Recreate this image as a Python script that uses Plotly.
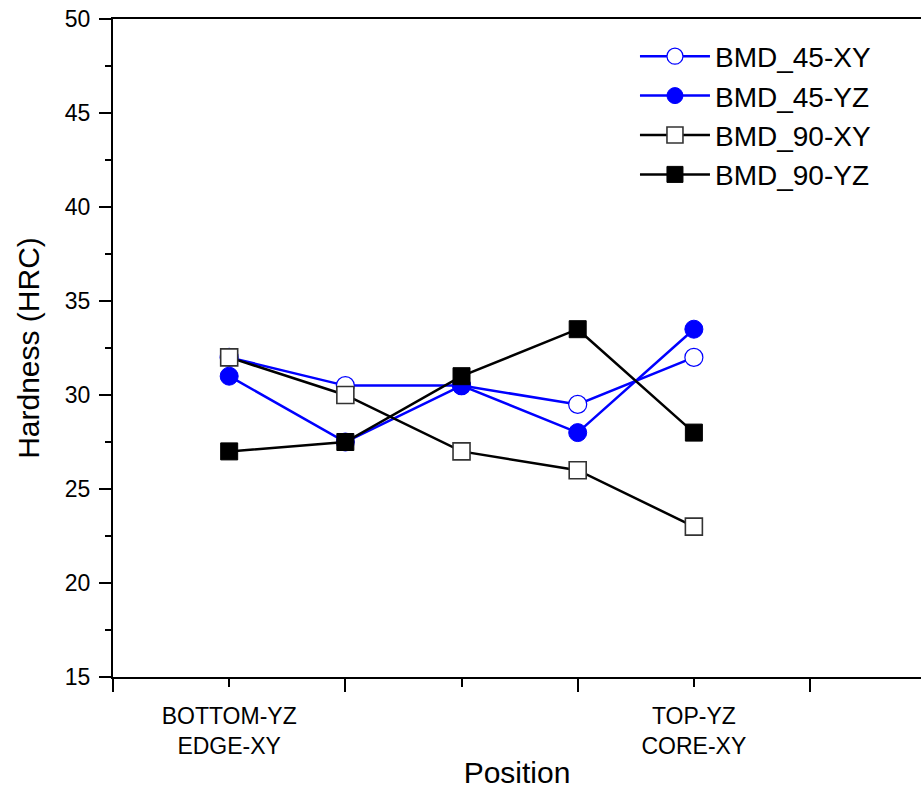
import plotly.graph_objects as go

# Hardness measured at five positions for two build orientations
positions = [1, 2, 3, 4, 5]
bmd45_xy = [32.0, 30.5, 30.5, 29.5, 32.0]
bmd45_yz = [31.0, 27.5, 30.5, 28.0, 33.5]
bmd90_xy = [32.0, 30.0, 27.0, 26.0, 23.0]
bmd90_yz = [27.0, 27.5, 31.0, 33.5, 28.0]

label_positions = [1, 5]
label_text = ["BOTTOM-YZ<br>EDGE-XY", "TOP-YZ<br>CORE-XY"]

BLUE = "#0000ff"
BLACK = "#000000"

# name, values, line colour, symbol, fill, outline colour, outline width, size
series = [
    ("BMD_45-XY", bmd45_xy, BLUE, "circle", "white", BLUE, 1.2, 18),
    ("BMD_45-YZ", bmd45_yz, BLUE, "circle", BLUE, BLUE, 1, 18),
    ("BMD_90-XY", bmd90_xy, BLACK, "square", "white", "#333333", 1.6, 17),
    ("BMD_90-YZ", bmd90_yz, BLACK, "square", BLACK, BLACK, 1, 17),
]

fig = go.Figure()
for name, vals, color, symbol, fill, outline, ow, size in series:
    fig.add_trace(go.Scatter(
        x=positions, y=vals, name=name, mode="lines+markers",
        line=dict(color=color, width=2.5),
        marker=dict(symbol=symbol, size=size, color=fill, line=dict(color=outline, width=ow)),
    ))

xrange = [0, 6.955]
fig.update_layout(
    width=921, height=789,
    margin=dict(l=113, r=0, t=19, b=112),
    paper_bgcolor="white", plot_bgcolor="white",
    font=dict(family="Liberation Sans, Arial, sans-serif", color="black"),
    showlegend=True,
    legend=dict(x=0.646, y=0.981, xanchor="left", yanchor="top",
                font=dict(size=28), itemwidth=70, tracegroupgap=0,
                bgcolor="rgba(0,0,0,0)"),
    xaxis=dict(
        range=xrange, tickmode="array", tickvals=[0, 2, 4, 6], ticktext=["", "", "", ""],
        ticks="outside", ticklen=13, tickwidth=2, tickcolor="black",
        minor=dict(tickvals=[1, 3, 5], ticks="outside", ticklen=8, tickwidth=2, tickcolor="black"),
        showline=True, linewidth=2, linecolor="black", mirror=True,
        showgrid=False, zeroline=False,
        title=dict(text="Position", font=dict(size=30), standoff=79),
    ),
    xaxis2=dict(
        range=xrange, overlaying="x", side="bottom", anchor="y",
        tickmode="array", tickvals=label_positions, ticktext=label_text,
        ticks="", showline=False, showgrid=False, zeroline=False,
        tickfont=dict(size=23),
        ticklabelstandoff=23,
    ),
    yaxis=dict(
        range=[15, 50], tickmode="linear", tick0=15, dtick=5,
        ticks="outside", ticklen=12, tickwidth=2, tickcolor="black",
        minor=dict(dtick=2.5, ticks="outside", ticklen=6, tickwidth=2, tickcolor="black"),
        showline=True, linewidth=2, linecolor="black", mirror=False,
        showgrid=False, zeroline=False, tickfont=dict(size=23), ticklabelstandoff=4,
        title=dict(text="Hardness (HRC)", font=dict(size=30), standoff=16),
    ),
)
# empty trace on the overlay axis so its category labels render
fig.add_trace(go.Scatter(x=[None], y=[None], xaxis="x2", showlegend=False, hoverinfo="skip"))

fig.write_html("out.html")
